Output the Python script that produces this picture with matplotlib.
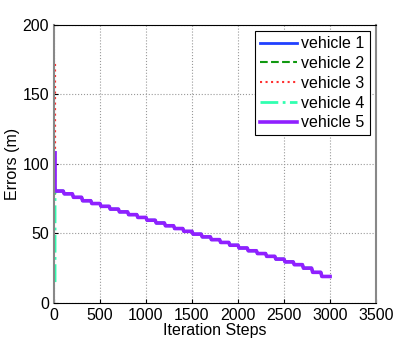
import matplotlib
matplotlib.use("Agg")
import matplotlib.pyplot as plt
import numpy as np

plt.rcParams['font.family'] = ['Liberation Sans', 'DejaVu Sans']

# error level held during each block of 100 iterations (0-100, 100-200, ... 2900-3000)
step_iters = [0, 100, 200, 300, 400, 500, 600, 700, 800, 900, 1000, 1100, 1200, 1300, 1400,
              1500, 1600, 1700, 1800, 1900, 2000, 2100, 2200, 2300, 2400, 2500, 2600, 2700,
              2800, 2900, 3000]
common_err = [80.5, 78.5, 76.0, 73.5, 71.5, 69.5, 67.5, 65.5, 63.5, 61.5, 59.5, 57.5, 55.5,
              53.5, 51.5, 49.5, 47.5, 45.5, 43.5, 41.5, 39.5, 37.5, 35.5, 33.5, 31.5, 29.5,
              27.5, 25.0, 22.0, 19.0]
# initial error of each vehicle at iteration 0
start_err = [82.0, 78.0, 172.0, 15.0, 108.0]
labels = ['vehicle 1', 'vehicle 2', 'vehicle 3', 'vehicle 4', 'vehicle 5']
colors = ['#2040ff', '#109910', '#ff3030', '#30ffb0', '#9020ff']
styles = ['-', '--', ':', '-.', '-']
widths = [2.0, 1.5, 1.5, 2.0, 2.6]

fig = plt.figure(figsize=(4.15, 3.43), dpi=100)
ax = fig.add_axes([0.130, 0.117, 0.776, 0.810])

for i in range(5):
    # the first drop happens within the first few iterations
    xs = [12, 12]
    ys = [start_err[i], common_err[0]]
    for k, v in enumerate(common_err):
        xs += [step_iters[k] + 12, step_iters[k + 1]]
        ys += [v, v]
    ax.plot(xs, ys, color=colors[i], linestyle=styles[i], linewidth=widths[i],
            label=labels[i])

ax.set_xlim(0, 3500)
ax.set_ylim(0, 200)
ax.set_xticks(np.arange(0, 3501, 500))
ax.set_yticks(np.arange(0, 201, 50))
ax.grid(True, linestyle=':', color='#999999', linewidth=0.8)
ax.tick_params(direction='in', labelsize=11.5, length=3)
for side in ['left', 'right']:
    ax.spines[side].set_color('#888888')
    ax.spines[side].set_linewidth(1.5)
ax.set_xlabel('Iteration Steps', fontsize=11.5, labelpad=0)
ax.set_ylabel('Errors (m)', fontsize=11.5, labelpad=2)

leg = ax.legend(loc='upper right', fontsize=11.5, handlelength=2.3, fancybox=False,
                framealpha=1, borderpad=0.3, labelspacing=0.3, handletextpad=0.3,
                borderaxespad=0.4)
leg.get_frame().set_edgecolor('black')
leg.get_frame().set_linewidth(0.8)

fig.savefig('out.png', dpi=100)
